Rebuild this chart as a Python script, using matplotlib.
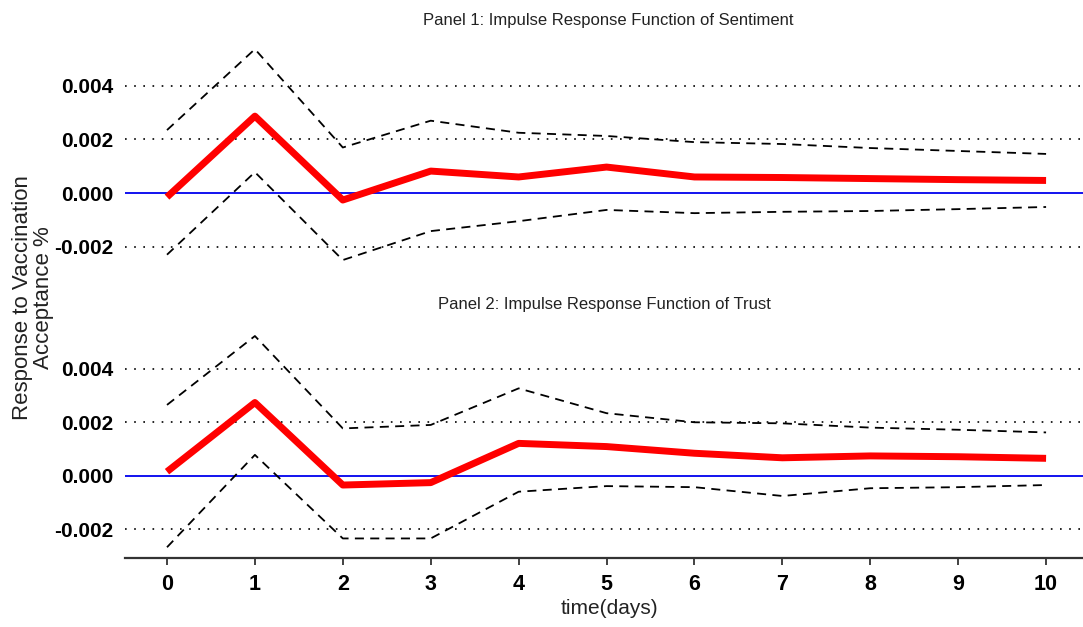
import numpy as np
import matplotlib
matplotlib.use("Agg")
from matplotlib import pyplot as plt

days = list(range(11))

# panel 1: sentiment
irf_sent = [-0.00015, 0.00287, -0.00026, 0.00082, 0.0006, 0.00097, 0.0006, 0.00058, 0.00054, 0.0005, 0.00047]
upper_sent = [0.00235, 0.00537, 0.0017, 0.0027, 0.00225, 0.00213, 0.0019, 0.00183, 0.00168, 0.00157, 0.00146]
lower_sent = [-0.0023, 0.00078, -0.0025, -0.00142, -0.00105, -0.00063, -0.00075, -0.0007, -0.00067, -0.0006, -0.00052]

# panel 2: trust
irf_trust = [0.00015, 0.00274, -0.00035, -0.00026, 0.00121, 0.00109, 0.00084, 0.00067, 0.00074, 0.00071, 0.00065]
upper_trust = [0.00265, 0.00523, 0.00177, 0.0019, 0.00327, 0.00234, 0.002, 0.00196, 0.0018, 0.00172, 0.00162]
lower_trust = [-0.00268, 0.00078, -0.00235, -0.00235, -0.0006, -0.00039, -0.00043, -0.00076, -0.00047, -0.00043, -0.00035]

yticks = [-0.002, 0.0, 0.002, 0.004]
ytick_labels = ["-0.002", "0.000", "0.002", "0.004"]

plt.rcParams['font.family'] = ['Liberation Sans', 'DejaVu Sans']

fig = plt.figure(figsize=(10.83, 6.27), dpi=100)
ax1 = fig.add_axes([0.1154, 0.5767, 0.8846, 0.3633])
ax2 = fig.add_axes([0.1154, 0.1093, 0.8846, 0.3748])


def draw_panel(ax, irf, upper, lower, ylim):
    for y in [-0.002, 0.002, 0.004]:
        ax.axhline(y, color='black', linestyle=(0, (1, 4.5)), lw=1.2, zorder=1)
    ax.axhline(0, color='#0000ee', lw=1.3, zorder=2)
    ax.plot(days, upper, color='black', linestyle=(0, (5, 3.5)), lw=1.3, zorder=3)
    ax.plot(days, lower, color='black', linestyle=(0, (5, 3.5)), lw=1.3, zorder=3)
    ax.plot(days, irf, color='#ff0000', lw=5, solid_capstyle='butt', zorder=4)
    ax.set_xlim(-0.478, 10.42)
    ax.set_ylim(*ylim)
    ax.set_yticks(yticks)
    ax.set_yticklabels(ytick_labels, fontsize=15, fontweight='bold')
    ax.tick_params(axis='y', length=0, pad=8)
    for s in ['top', 'right', 'left', 'bottom']:
        ax.spines[s].set_visible(False)


draw_panel(ax1, irf_sent, upper_sent, lower_sent, (-0.0027, 0.0058))
draw_panel(ax2, irf_trust, upper_trust, lower_trust, (-0.0031, 0.0057))

ax1.set_xticks([])
ax2.set_xticks(days)
ax2.set_xticklabels([str(d) for d in days], fontsize=15.5, fontweight='bold')
ax2.spines['bottom'].set_visible(True)
ax2.spines['bottom'].set_color('#333333')
ax2.spines['bottom'].set_linewidth(1.6)
ax2.tick_params(axis='x', length=5, width=1.3, color='#333333', pad=6)

fig.text(0.562, 1 - 20 / 627, "Panel 1: Impulse Response Function of Sentiment",
         ha='center', va='center', fontsize=12, color='#222222')
fig.text(0.558, 1 - 304 / 627, "Panel 2: Impulse Response Function of Trust",
         ha='center', va='center', fontsize=12, color='#222222')
fig.text(0.563, 1 - 609 / 627, "time(days)", ha='center', va='center', fontsize=15, color='#222222')
fig.text(33 / 1083, 1 - 298 / 627, "Response to Vaccination\nAcceptance %", rotation=90,
         ha='center', va='center', multialignment='center', fontsize=16, linespacing=1.0,
         color='#222222')

fig.savefig("out.png", dpi=100)
